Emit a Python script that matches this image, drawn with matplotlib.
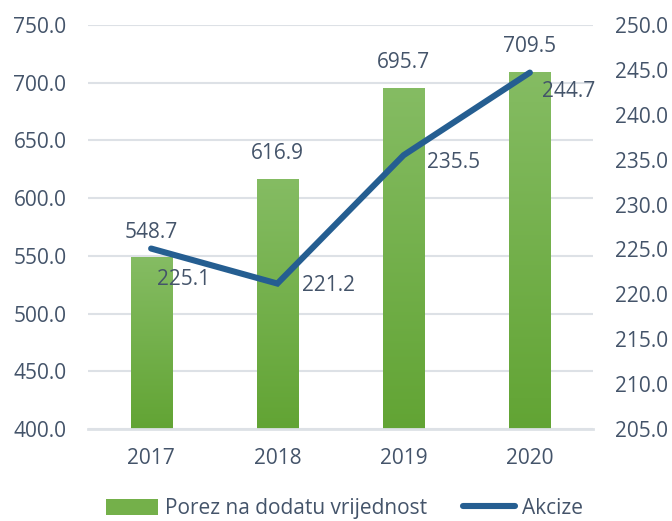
import numpy as np
import matplotlib
matplotlib.use("Agg")
import matplotlib.pyplot as plt
from matplotlib.colors import LinearSegmentedColormap
from matplotlib.lines import Line2D
from matplotlib.patches import Patch

plt.rcParams['font.family'] = ['Open Sans', 'DejaVu Sans']

years = ['2017', '2018', '2019', '2020']
pdv = [548.7, 616.9, 695.7, 709.5]
akcize = [225.1, 221.2, 235.5, 244.7]
left_ticks = [400, 450, 500, 550, 600, 650, 700, 750]
right_ticks = [205, 210, 215, 220, 225, 230, 235, 240, 245, 250]
series_names = ['Porez na dodatu vrijednost', 'Akcize']

TXT = '#44546A'
GRID = '#DDE1E6'
LINE = '#255E91'
FS = 15

fig = plt.figure(figsize=(6.72, 5.21), dpi=100)
ax = fig.add_axes([88/672, 1-429/521, (593-88)/672, (429-25)/521])
ax2 = ax.twinx()

x = np.arange(len(years))
bars = ax.bar(x, pdv, width=0.325, color='#74B04A', zorder=2)
cmap = LinearSegmentedColormap.from_list('g', ['#62A434', '#85BC63'])
grad = np.linspace(0, 1, 256).reshape(-1, 1)
for b in bars:
    x0, y0 = b.get_x(), b.get_y()
    w, h = b.get_width(), b.get_height()
    b.set_facecolor('none')
    im = ax.imshow(grad, cmap=cmap, origin='lower', aspect='auto',
                   extent=[x0, x0 + w, 400, y0 + h], zorder=2)
    im.set_clip_path(b)

ax.set_xlim(-0.5, len(years) - 0.5)
ax.set_ylim(400, 750)
ax.set_yticks(left_ticks)
ax.set_yticklabels([f'{v:.1f}' for v in left_ticks])
ax.set_xticks(x)
ax.set_xticklabels(years)
ax.grid(axis='y', color=GRID, linewidth=1.5, zorder=0)
ax.set_axisbelow(True)
for s in ['top', 'left', 'right']:
    ax.spines[s].set_visible(False)
ax.spines['bottom'].set_color(GRID)
ax.spines['bottom'].set_linewidth(2)
ax.tick_params(axis='y', length=0, pad=15.5, labelsize=FS, labelcolor=TXT)
ax.tick_params(axis='x', length=0, pad=14, labelsize=FS, labelcolor=TXT)

for xi, v in zip(x, pdv):
    ax.annotate(f'{v:.1f}', (xi, v), xytext=(0, 25), textcoords='offset pixels',
                ha='center', va='center', fontsize=FS, color=TXT, zorder=5)

ax2.plot(x, akcize, color=LINE, linewidth=4.4, solid_capstyle='round',
         solid_joinstyle='miter', zorder=3)
ax2.set_ylim(205, 250)
ax2.set_yticks(right_ticks)
ax2.set_yticklabels([f'{v:.1f}' for v in right_ticks])
for s in ['top', 'left', 'right', 'bottom']:
    ax2.spines[s].set_visible(False)
ax2.tick_params(axis='y', length=0, pad=16, labelsize=FS, labelcolor=TXT)

offsets = [(6, -31), (25, -2), (23, -7), (12, -19)]
for xi, v, off in zip(x, akcize, offsets):
    ax2.annotate(f'{v:.1f}', (xi, v), xytext=off, textcoords='offset pixels',
                 ha='left', va='center', fontsize=FS, color=TXT, zorder=5)

handles = [Patch(facecolor='#74B04A', edgecolor='none'),
           Line2D([0], [0], color=LINE, linewidth=4.4, solid_capstyle='round')]
fig.legend(handles, series_names, loc='center', bbox_to_anchor=(0.513, 0.024),
           ncol=2, frameon=False, fontsize=FS, labelcolor=TXT,
           handlelength=2.5, handleheight=0.8, handletextpad=0.35,
           columnspacing=1.7, borderpad=0)

fig.savefig('out.png', dpi=100)
